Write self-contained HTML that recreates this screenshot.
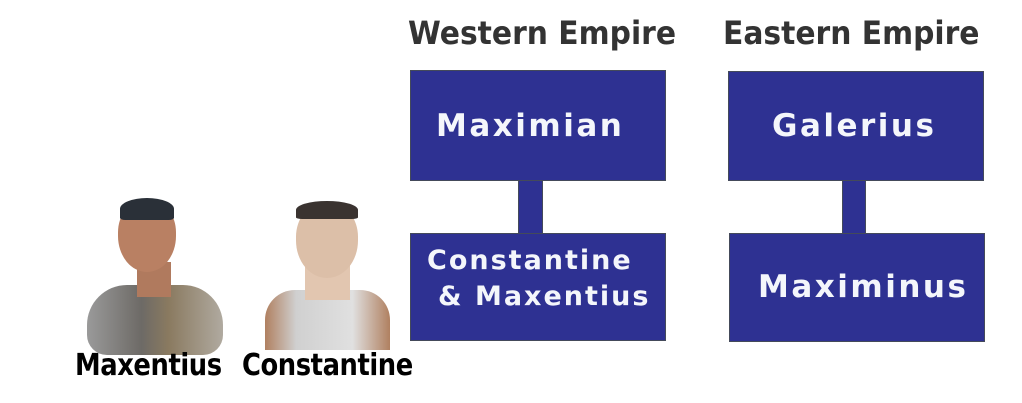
<!DOCTYPE html>
<html><head><meta charset="utf-8"><style>
*{margin:0;padding:0;box-sizing:border-box}
body{width:1022px;height:403px;background:#fff;position:relative;overflow:hidden;font-family:"DejaVu Sans","Liberation Sans",sans-serif;font-weight:bold}
.b{position:absolute;background:#2e3192;border:1px solid #444a5a}
.t{position:absolute;color:#f4f6fb;white-space:nowrap;letter-spacing:2.5px;font-size:31px}
.h{position:absolute;color:#333;font-size:32px;white-space:nowrap;top:14px;transform:scaleX(0.93);transform-origin:0 0}
.l{position:absolute;color:#000;font-size:30px;white-space:nowrap;top:348px;letter-spacing:-0.5px;transform:scaleX(0.86);transform-origin:0 0}
.a{position:absolute}
</style></head><body>
<div class="h" style="left:408px">Western Empire</div>
<div class="h" style="left:723px">Eastern Empire</div>

<div class="b" style="left:410px;top:70px;width:256px;height:111px"></div>
<div class="b" style="left:518px;top:180px;width:25px;height:54px"></div>
<div class="b" style="left:410px;top:233px;width:256px;height:108px"></div>
<div class="b" style="left:728px;top:71px;width:256px;height:110px"></div>
<div class="b" style="left:842px;top:180px;width:24px;height:54px"></div>
<div class="b" style="left:729px;top:233px;width:256px;height:109px"></div>

<div class="t" style="left:436px;top:108px">Maximian</div>
<div class="t" style="left:772px;top:108px">Galerius</div>
<div class="t" style="left:427px;top:245px;font-size:27px;letter-spacing:2px">Constantine</div>
<div class="t" style="left:438px;top:281px;font-size:27px;letter-spacing:2px">&amp; Maxentius</div>
<div class="t" style="left:758px;top:269px">Maximinus</div>

<!-- Maxentius bust -->
<div class="a" style="left:87px;top:285px;width:136px;height:70px;background:linear-gradient(90deg,#9a9a9a,#6d6a66 40%,#8a7a60 60%,#b0aaa0);border-radius:40px 40px 20px 20px"></div>
<div class="a" style="left:137px;top:262px;width:34px;height:35px;background:#b07a5e"></div>
<div class="a" style="left:118px;top:200px;width:58px;height:72px;background:#b98063;border-radius:45% 45% 50% 50%"></div>
<div class="a" style="left:120px;top:198px;width:54px;height:22px;background:#2a3038;border-radius:50% 50% 10% 10%"></div>
<!-- Constantine bust -->
<div class="a" style="left:265px;top:290px;width:125px;height:60px;background:linear-gradient(90deg,#b08060,#d0d0d0 25%,#e0e0e0 70%,#b08060);border-radius:30px 30px 0 0"></div>
<div class="a" style="left:305px;top:265px;width:45px;height:35px;background:#e2c6b0"></div>
<div class="a" style="left:296px;top:203px;width:62px;height:75px;background:#dcbfa8;border-radius:45% 45% 50% 50%"></div>
<div class="a" style="left:296px;top:201px;width:62px;height:18px;background:#3a3330;border-radius:50% 50% 10% 10%"></div>

<div class="l" style="left:75px">Maxentius</div>
<div class="l" style="left:242px">Constantine</div>
</body></html>
